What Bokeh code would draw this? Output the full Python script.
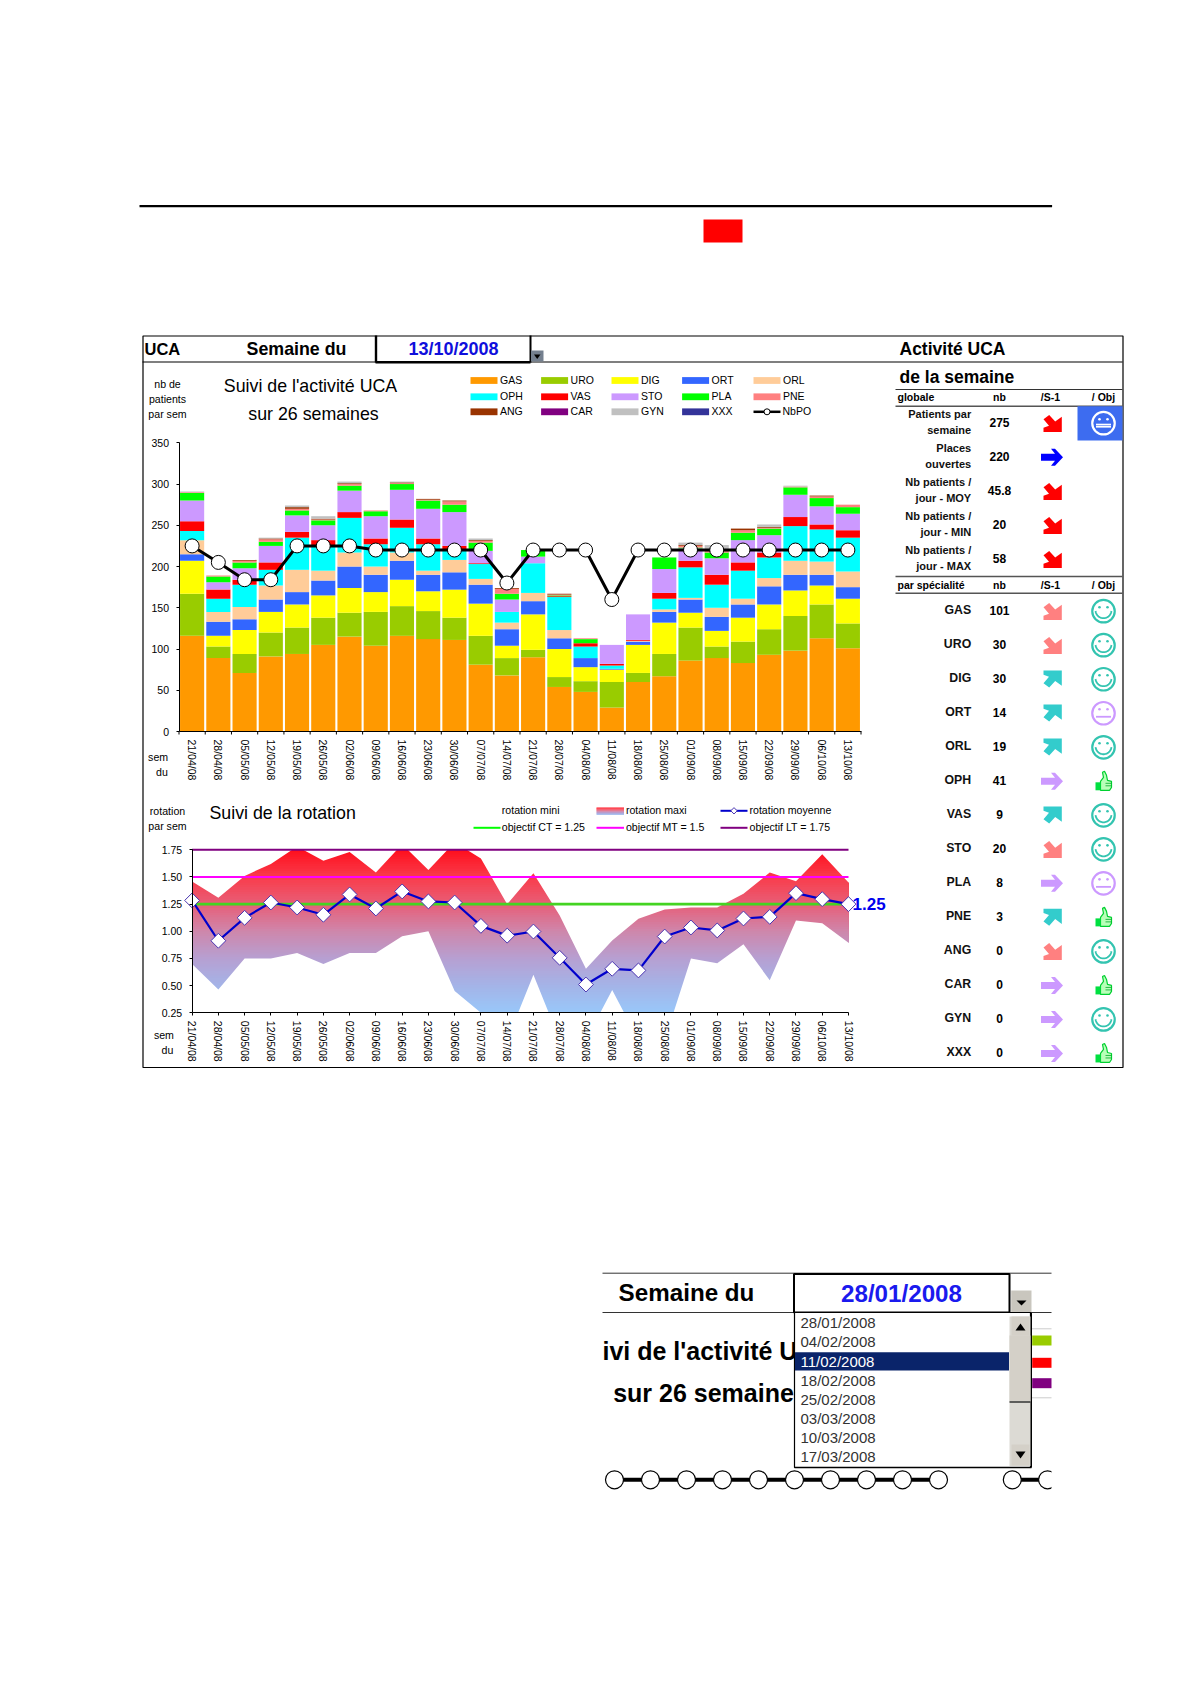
import math
import numpy as np
from bokeh.plotting import figure
from bokeh.models import Range1d, LinearAxis, FixedTicker, ColumnDataSource, PrintfTickFormatter
from bokeh.core.properties import value
from bokeh.embed import file_html
from bokeh.resources import INLINE

# ---------- data ----------
weeks = ["21/04/08","28/04/08","05/05/08","12/05/08","19/05/08","26/05/08","02/06/08","09/06/08","16/06/08",
         "23/06/08","30/06/08","07/07/08","14/07/08","21/07/08","28/07/08","04/08/08","11/08/08","18/08/08",
         "25/08/08","01/09/08","08/09/08","15/09/08","22/09/08","29/09/08","06/10/08","13/10/08"]
GAS = [116,89,71,91,94,105,115,104,116,112,111,81,68,90,54,48,29,60,67,86,89,83,93,98,113,101]
URO = [51,14,23,29,32,33,29,41,36,34,27,35,21,9,12,13,31,11,27,40,14,26,31,42,41,30]
DIG = [40,13,29,25,28,27,30,24,32,24,34,39,15,43,34,17,15,34,38,18,19,29,30,31,23,30]
ORT = [8,17,13,15,15,18,26,21,23,20,21,23,20,16,13,11,1,4,13,16,17,16,22,19,13,14]
ORL = [17,12,15,17,27,12,17,10,10,5,15,7,8,10,10,0,0,1,3,2,11,7,10,17,16,19]
OPH = [11,16,27,19,39,30,42,27,30,32,11,18,13,36,40,14,4,0,13,37,28,34,25,42,39,41]
VAS = [12,11,6,9,7,7,7,7,10,7,6,1,0,0,1,4,2,1,7,8,12,10,6,11,6,9]
STO = [25,9,14,20,20,18,26,27,36,36,41,15,15,8,0,0,23,31,29,15,20,27,21,27,22,20]
PLA = [9,7,7,5,6,6,6,6,7,10,9,10,7,8,1,5,0,0,14,1,7,9,8,9,10,8]
PNE = [1,1,2,3,2,1,2,1,1,1,4,2,6,0,1,1,0,0,0,2,3,3,1,1,2,3]
ANG = [0,0,1,1,2,1,1,0,1,1,1,1,1,0,1,0,0,0,0,1,1,2,1,0,1,0]
CAR = [0]*26
GYN = [1,0,0,1,2,3,2,0,1,0,0,2,0,0,0,0,0,0,0,3,5,0,3,1,0,0]
XXX = [0]*26
nb_po = [225,205,184,184,225,225,225,220,220,220,220,220,180,220,220,220,160,220,220,220,220,220,220,220,220,220]
rot_moy = [1.284,0.913,1.124,1.265,1.219,1.152,1.339,1.21,1.367,1.275,1.265,1.05,0.96,0.998,0.756,0.51,0.655,0.64,
           0.952,1.035,1.008,1.118,1.133,1.351,1.296,1.25]
rot_max = [1.458,1.308,1.51,1.62,1.78,1.65,1.73,1.54,1.80,1.565,1.82,1.67,1.25,1.535,1.145,0.655,0.915,1.115,
           1.2,1.22,1.22,1.345,1.54,1.46,1.71,1.45]
rot_min = [0.70,0.465,0.75,0.75,0.80,0.70,0.80,0.80,0.955,1.0,0.45,0.25,0.0,0.60,0.0,0.0,0.46,0.0,
           0.0,0.75,0.705,0.88,0.55,1.10,1.075,0.895]
obj_ct = [1.25]*26
obj_mt = [1.5]*26
obj_lt = [1.75]*26
series_names = ["GAS","URO","DIG","ORT","ORL","OPH","VAS","STO","PLA","PNE","ANG","CAR","GYN","XXX"]
series_vals = [GAS,URO,DIG,ORT,ORL,OPH,VAS,STO,PLA,PNE,ANG,CAR,GYN,XXX]
series_cols = ["#ff9900","#99cc00","#ffff00","#3366ff","#ffcc99","#00ffff","#ff0000","#cc99ff","#00ff00",
               "#ff8080","#993300","#800080","#c0c0c0","#333399"]
glob_lab = [("Patients par","semaine"),("Places","ouvertes"),("Nb patients /","jour - MOY"),
            ("Nb patients /","jour - MIN"),("Nb patients /","jour - MAX")]
glob_nb = ["275","220","45.8","20","58"]
glob_trend = ["dr","r","dr","dr","dr"]
glob_col = ["#ff0000","#0000ff","#ff0000","#ff0000","#ff0000"]
spec_nb = [101,30,30,14,19,41,9,20,8,3,0,0,0,0]
spec_trend = ["dr","dr","ur","ur","ur","r","ur","dr","r","ur","dr","r","r","r"]
spec_state = ["s","s","s","n","s","t","s","s","n","t","s","t","s","t"]
list_dates = ["28/01/2008","04/02/2008","11/02/2008","18/02/2008","25/02/2008","03/03/2008","10/03/2008","17/03/2008"]
inset_po = [220]*10
inset_po2 = [220,220]

# ---------- page ----------
SANS = "Liberation Sans"
W, H = 1174, 1520
p = figure(width=W, height=H, x_range=Range1d(0, W), y_range=Range1d(H, 0),
           output_backend="svg", toolbar_location=None, tools="", x_axis_type=None, y_axis_type=None, min_border=0)
p.grid.visible = False
p.outline_line_color = None

def vy(v0_px, px_per, px):
    return (v0_px - px) / px_per
A_Y0, A_K = 731.0, 288.7/350
R_Y0, R_K = 1012.3, 163.0/1.5
A_X0, A_STEP = 178.5, 682.0/26
R_X0, R_STEP = 191.6, 656.4/25
p.extra_y_ranges = {
    "act": Range1d(vy(A_Y0, A_K, H), vy(A_Y0, A_K, 0)),
    "rot": Range1d(0.25+vy(R_Y0, R_K, H), 0.25+vy(R_Y0, R_K, 0)),
    "ins": Range1d(220+(1479.3-H)/0.8, 220+(1479.3-0)/0.8),
}
p.extra_x_ranges = {
    "act": Range1d((0-A_X0)/A_STEP-0.5, (W-A_X0)/A_STEP-0.5),
    "rot": Range1d((0-R_X0)/R_STEP, (W-R_X0)/R_STEP),
    "ins": Range1d((0-614)/36.0, (W-614)/36.0),
}

def T(x, y, s, size=10, color="#000000", bold=False, align="center", font=SANS):
    p.text(x=[x], y=[y-1], text=[s], text_font=value(font), text_font_size=f"{size}px",
           text_color=color, text_align=align, text_baseline="middle",
           text_font_style="bold" if bold else "normal")

def HL(x0, x1, y, color="#000000", w=1):
    p.line([x0, x1], [y, y], line_color=color, line_width=w)

def VL(x, y0, y1, color="#000000", w=1):
    p.line([x, x], [y0, y1], line_color=color, line_width=w)

def R(x0, x1, y0, y1, color):
    p.quad(left=x0, right=x1, top=y0, bottom=y1, fill_color=color, line_color=None)

# top rule and red block
HL(139, 1051.6, 205.7, w=2.2)
R(703, 742, 219, 242, "#ff0000")

# frame
p.quad(left=142.5, right=1122.5, top=335.5, bottom=1067, fill_color=None, line_color="#000000", line_width=1.2)
HL(142, 1122, 361.5, w=1.2)
VL(375.5, 335, 362, w=2.4)
VL(530, 335, 362, w=2)
HL(375, 530, 361.8, w=2.4)
T(144, 349, "UCA", 16.5, bold=True, align="left")
T(296, 349, "Semaine du", 17.8, bold=True)
T(453, 349, "13/10/2008", 18, "#0f0fdc", True)
R(530.5, 543, 350, 361, "#74808f")
p.patch([533.5, 540, 536.7], [354, 354, 358.5], fill_color="#000000", line_color=None)

# ---------- activity chart ----------
src = ColumnDataSource({"x": list(range(26)), **dict(zip(series_names, series_vals))})
p.vbar_stack(series_names, x="x", width=0.92, color=series_cols, source=src, line_color=None,
             x_range_name="act", y_range_name="act")
idx = list(range(26))
p.line(idx, nb_po, line_color="#000000", line_width=3, x_range_name="act", y_range_name="act")
p.scatter(idx, nb_po, marker="circle", size=14, fill_color="#ffffff", line_color="#000000", line_width=1,
          x_range_name="act", y_range_name="act")

edges_x = [i-0.5 for i in range(27)]
p.segment(edges_x, [0]*27, edges_x, [-3/A_K]*27, line_color="#000000", line_width=1,
          x_range_name="act", y_range_name="act")
ax2 = LinearAxis(x_range_name="act", y_range_name="act", fixed_location=0, bounds=(-0.5, 25.5),
                 ticker=FixedTicker(ticks=idx), major_label_overrides={i: w for i, w in enumerate(weeks)},
                 major_label_orientation="vertical", major_label_standoff=8, major_tick_line_color=None,
                 major_tick_in=0, major_tick_out=0,
                 minor_tick_line_color=None, axis_line_color="#000000", major_label_text_font_size="10.5px",
                 major_label_text_font=SANS, major_label_text_color="#000000")
p.add_layout(ax2, "below")
ay = LinearAxis(x_range_name="act", y_range_name="act", fixed_location=-0.5, bounds=(0, 350),
                ticker=FixedTicker(ticks=[0,50,100,150,200,250,300,350]), minor_tick_line_color=None,
                major_tick_in=0, major_tick_out=3, major_label_standoff=7, major_label_text_font_size="10.5px",
                major_label_text_font=SANS, major_label_text_color="#000000",
                axis_line_color="#000000", major_tick_line_color="#000000")
p.add_layout(ay, "left")

for y, s in zip((384, 399, 414.7), ("nb de", "patients", "par sem")):
    T(167, y, s, 10.6)
T(310, 386.7, "Suivi de l'activité UCA", 17.8)
T(313, 414.3, "sur 26 semaines", 17.8)
T(157.6, 757.3, "sem", 10.6)
T(161.5, 772.3, "du", 10.6)

# legend
leg_x = [470, 540.6, 611, 681.6, 753]
leg_y = [380, 396.3, 411.3]
for k in range(14):
    r, c = k//5, k % 5
    R(leg_x[c], leg_x[c]+27, leg_y[r]-3.4, leg_y[r]+3.4, series_cols[k])
    T(leg_x[c]+29.5, leg_y[r], series_names[k], 10.5, align="left")
HL(753, 780, 411.3, w=2.5)
p.scatter([766.5], [411.3], marker="circle", size=6, fill_color="#ffffff", line_color="#000000")
T(782, 411.3, "NbPO", 10.5, align="left")

# ---------- rotation chart ----------
N = 70
edges = np.linspace(0.25, 1.75, N+1)
stop_v = [0.25, 0.5, 0.75, 1.0, 1.25, 1.5, 1.75]
stop_r = [153, 165, 183, 207, 232, 250, 255]
stop_g = [200, 180, 160, 135, 95, 60, 15]
stop_b = [250, 232, 210, 172, 120, 75, 30]
def grad(v):
    return "#%02x%02x%02x" % (int(np.interp(v, stop_v, stop_r)), int(np.interp(v, stop_v, stop_g)),
                              int(np.interp(v, stop_v, stop_b)))
for k in range(N-1, -1, -1):
    p.quad(left=0, right=25, bottom=0.25, top=edges[k+1], fill_color=grad((edges[k]+edges[k+1])/2),
           line_color=None, x_range_name="rot", y_range_name="rot")
mask_x = [-0.4] + idx + [25.4]
p.varea(x=mask_x, y1=[rot_max[0]]+rot_max+[rot_max[-1]], y2=[1.85]*28, fill_color="#ffffff",
        x_range_name="rot", y_range_name="rot")
p.varea(x=mask_x, y1=[rot_min[0]]+rot_min+[rot_min[-1]], y2=[0.0]*28, fill_color="#ffffff",
        x_range_name="rot", y_range_name="rot")
p.line(idx, obj_ct, line_color="#44d422", line_width=2.8, x_range_name="rot", y_range_name="rot")
p.line(idx, obj_mt, line_color="#ff00ff", line_width=2, x_range_name="rot", y_range_name="rot")
p.line(idx, obj_lt, line_color="#800080", line_width=2, x_range_name="rot", y_range_name="rot")
p.line(idx, rot_moy, line_color="#0000cc", line_width=2.2, x_range_name="rot", y_range_name="rot")
p.scatter(idx, rot_moy, marker="square", angle=math.pi/4, size=10.5, fill_color="#ffffff", line_color="#4a35b0",
          line_width=1, x_range_name="rot", y_range_name="rot")
bx = LinearAxis(x_range_name="rot", y_range_name="rot", fixed_location=0.25, bounds=(0, 25),
                ticker=FixedTicker(ticks=idx), major_label_overrides={i: w for i, w in enumerate(weeks)},
                major_label_orientation="vertical", major_label_standoff=5, major_tick_in=0, major_tick_out=3,
                minor_tick_line_color=None, major_label_text_font_size="10.5px", major_label_text_font=SANS,
                major_label_text_color="#000000", axis_line_color="#000000", major_tick_line_color="#000000")
p.add_layout(bx, "below")
by = LinearAxis(x_range_name="rot", y_range_name="rot", fixed_location=0, bounds=(0.25, 1.75),
                ticker=FixedTicker(ticks=[0.25,0.5,0.75,1.0,1.25,1.5,1.75]), formatter=PrintfTickFormatter(format="%.2f"),
                minor_tick_line_color=None, major_tick_in=0, major_tick_out=3, major_label_standoff=7,
                major_label_text_font_size="10.5px", major_label_text_font=SANS, major_label_text_color="#000000",
                axis_line_color="#000000", major_tick_line_color="#000000")
p.add_layout(by, "left")

T(167, 811.7, "rotation", 10.6)
T(167, 826.7, "par sem", 10.6)
T(209, 813.3, "Suivi de la rotation", 17.8, align="left")
T(501.3, 810.3, "rotation mini", 10.6, align="left")
for k in range(8):
    R(596, 623.5, 807+k*0.9, 807+(k+1)*0.9+0.2, grad(1.75-k*1.5/8))
T(625.4, 810.3, "rotation maxi", 10.6, align="left")
HL(720, 747, 810.3, "#0000cc", 2)
p.scatter([733.5], [810.3], marker="square", angle=math.pi/4, size=4.5, fill_color="#ffffff", line_color="#4a35b0")
T(749, 810.3, "rotation moyenne", 10.6, align="left")
HL(473, 500, 827.3, "#00ff00", 2)
T(501.3, 827.3, "objectif CT = 1.25", 10.6, align="left")
HL(596, 623.5, 827.3, "#ff00ff", 2)
T(625.4, 827.3, "objectif MT = 1.5", 10.6, align="left")
HL(720, 747, 827.3, "#800080", 2)
T(749, 827.3, "objectif LT = 1.75", 10.6, align="left")
T(163.4, 1035.7, "sem", 10.6)
T(167, 1050, "du", 10.6)
T(852, 904.3, "1.25", 17, "#0000ee", True, align="left")

# ---------- right table ----------
T(899, 349, "Activité UCA", 17.5, bold=True, align="left")
T(899, 377, "de la semaine", 17.5, bold=True, align="left")
HL(895, 1122, 389, "#333333", 1.2)
HL(895, 1122, 405.7, "#555555", 1.5)
HL(895, 1122, 576, "#555555", 1.5)
HL(895, 1122, 592.7, "#555555", 1.5)
COLS = (999, 1050, 1103)
for y, first in ((397, "globale"), (585, "par spécialité")):
    T(897, y, first, 10.5, bold=True, align="left")
    T(COLS[0], y, "nb", 10.5, bold=True)
    T(COLS[1], y, "/S-1", 10.5, bold=True)
    T(COLS[2], y, "/ Obj", 10.5, bold=True)
R(1077, 1122, 405.7, 440, "#3d6cf0")

ARROW = {
    "dr": [(9.3,8.7),(-9,8.7),(-9,4.5),(-3.5,2.5),(-9,-4),(-3.3,-8.3),(2.7,-1.7),(9.3,-6.5)],
    "ur": [(9.3,-8.7),(-9,-8.7),(-9,-4.5),(-3.5,-2.5),(-9,4),(-3.3,8.3),(2.7,1.7),(9.3,6.5)],
    "r":  [(11,0),(3,-8.5),(-1,-8.5),(3,-3.5),(-11,-3.5),(-11,3.5),(3,3.5),(-1,8.5),(3,8.5)],
}
THUMB = [(-3,0),(0,-4),(-1,-9),(1,-10),(3,-6),(4,-1),(8,0),(8,6),(6,9),(-3,9)]

def arrow(cx, cy, kind, color):
    pts = ARROW[kind]
    p.patch([cx+a for a, _ in pts], [cy+b for _, b in pts], fill_color=color, line_color=None)

def face(cx, cy, state, color):
    p.scatter([cx], [cy], marker="circle", size=22.5, fill_color=None, line_color=color, line_width=2.2)
    p.scatter([cx-4, cx+4], [cy-4, cy-4], marker="circle", size=2.6, fill_color=color, line_color=None)
    if state == "s":
        a = np.linspace(0.1, math.pi-0.1, 16)
        p.line(cx+8*np.cos(a), cy-1+8*np.sin(a), line_color=color, line_width=1.8)
    else:
        HL(cx-7.5, cx+7.5, cy+3.5, color, 1.8)

def thumb(cx, cy):
    p.patch([cx+a for a, _ in THUMB], [cy+b for _, b in THUMB], fill_color="#b8ffb8", line_color="#00d030", line_width=1.2)
    R(cx-8, cx-3, cy+1, cy+9, "#00e040")
    for d in (2, 4.5):
        HL(cx+2, cx+8, cy+d, "#00a828", 0.8)

for i in range(5):
    y = 422.7 + 34*i
    T(970.7, y-8, glob_lab[i][0], 11, "#111111", True, align="right")
    T(970.7, y+7.5, glob_lab[i][1], 11, "#111111", True, align="right")
    T(COLS[0], y, glob_nb[i], 12, bold=True)
    arrow(1052 if glob_trend[i] != "r" else 1051.5, y, glob_trend[i], glob_col[i])
face(COLS[2], 422.7, "n", "#ffffff")
HL(COLS[2]-7.5, COLS[2]+7.5, 424, "#ffffff", 1.6)

TREND_COL = {"dr": "#ff8080", "ur": "#33cccc", "r": "#cc99ff"}
for i, name in enumerate(series_names):
    y = 610.7 + 34.02*i
    T(970.7, y, name, 12.3, "#111111", True, align="right")
    T(COLS[0], y, str(spec_nb[i]), 12, bold=True)
    arrow(1052 if spec_trend[i] != "r" else 1051.5, y, spec_trend[i], TREND_COL[spec_trend[i]])
    if spec_state[i] == "s":
        face(COLS[2], y, "s", "#33c4b0")
    elif spec_state[i] == "n":
        face(COLS[2], y, "n", "#cc99ff")
    else:
        thumb(COLS[2], y)

# ---------- inset (drop-down capture) ----------
HL(602, 1051, 1272.7, "#333333", 1)
HL(602, 1051, 1312, "#333333", 1)
T(686, 1293, "Semaine du", 24.2, bold=True)
T(602, 1351.7, "ivi de l'activité U", 25, bold=True, align="left")
T(612.7, 1393, "sur 26 semaines", 25, bold=True, align="left")
HL(1031, 1051, 1328.3, "#cccccc", 1)
HL(1031, 1051, 1397.3, "#cccccc", 1)
R(1031.7, 1051, 1335, 1345, "#99cc00")
R(1031.7, 1051, 1357.3, 1367.3, "#ff0000")
R(1031.7, 1051, 1377.7, 1387.7, "#800080")
ix = list(range(10))
p.line(ix, inset_po, line_color="#000000", line_width=4, x_range_name="ins", y_range_name="ins")
p.scatter(ix, inset_po, marker="circle", size=18, fill_color="#ffffff", line_color="#000000", line_width=1.2,
          x_range_name="ins", y_range_name="ins")
p.line([11.05, 12.03], inset_po2, line_color="#000000", line_width=4, x_range_name="ins", y_range_name="ins")
p.scatter([11.05, 12.03], inset_po2, marker="circle", size=18, fill_color="#ffffff", line_color="#000000", line_width=1.2,
          x_range_name="ins", y_range_name="ins")
R(1051, 1075, 1465, 1495, "#ffffff")
# date box
p.quad(left=793.5, right=1009, top=1273.5, bottom=1312, fill_color="#ffffff", line_color="#000000", line_width=2)
T(901, 1294, "28/01/2008", 24.2, "#1a1aee", True)
R(1010.7, 1031, 1290, 1312, "#c9c6be")
p.patch([1016, 1026, 1021], [1300, 1300, 1305], fill_color="#000000", line_color=None)
# list
p.quad(left=794, right=1030, top=1312, bottom=1467, fill_color="#ffffff", line_color="#000000", line_width=1.2)
VL(1030.5, 1312, 1467, w=2)
HL(794, 1031, 1467, w=1.6)
R(794.5, 1008.5, 1351.7, 1370, "#0a246a")
for i, d in enumerate(list_dates):
    T(800, 1323.3+19.1*i, d, 15, "#ffffff" if i == 2 else "#333333", align="left")
R(1009, 1030, 1316, 1465.5, "#dcdad4")
R(1011, 1029, 1316, 1335, "#d4d0c8")
p.patch([1015, 1025, 1020], [1330, 1330, 1323], fill_color="#000000", line_color=None)
R(1009, 1030, 1335, 1401, "#d4d0c8")
HL(1009, 1030, 1401.5, "#333333", 1.5)
R(1011, 1029, 1444, 1465, "#d4d0c8")
p.patch([1015, 1025, 1020], [1451, 1451, 1458], fill_color="#000000", line_color=None)

open("out.html", "w").write(file_html(p, INLINE))
